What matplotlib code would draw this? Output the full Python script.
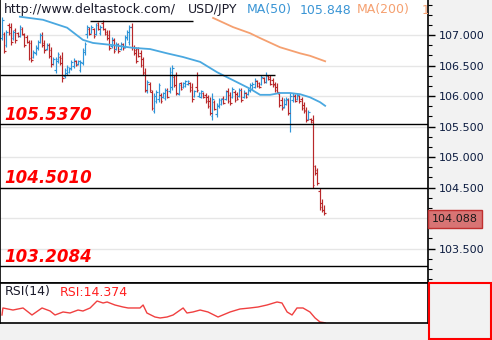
import matplotlib
matplotlib.use('Agg')
import numpy as np
import matplotlib.pyplot as plt
from matplotlib.ticker import FixedLocator, MultipleLocator, FormatStrFormatter
from matplotlib.patches import Rectangle
import matplotlib.transforms as mtransforms

# USD/JPY daily bars
opens = [106.95, 107.02, 106.84, 107.16, 107.13, 106.95, 107.08, 107.03, 106.99, 107.10,
         107.00, 106.97, 106.89, 106.87, 106.64, 106.70, 106.78, 106.89, 107.00, 106.87,
         106.77, 106.84, 106.75, 106.53, 106.42, 106.57, 106.64, 106.62, 106.33, 106.38,
         106.40, 106.45, 106.49, 106.57, 106.52, 106.42, 106.54, 106.72, 107.02, 107.10,
         107.04, 107.10, 107.01, 107.19, 107.03, 107.20, 107.10, 107.05, 107.00, 106.82,
         106.92, 106.77, 106.84, 106.77, 106.85, 106.81, 106.95, 106.88, 107.13, 106.80,
         106.75, 106.77, 106.70, 106.60, 106.40, 106.08, 106.20, 106.07, 105.76, 105.92,
         105.95, 106.02, 105.98, 105.96, 106.10, 106.08, 106.15, 106.31, 106.34, 106.04,
         106.21, 106.14, 106.17, 106.19, 106.21, 106.15, 106.00, 106.15, 106.00, 105.99,
         106.05, 106.02, 105.98, 105.92, 105.68, 105.90, 105.70, 105.83, 105.87, 105.97,
         105.95, 106.08, 106.02, 105.99, 106.07, 106.04, 106.00, 106.10, 105.98, 106.05,
         106.03, 106.09, 106.12, 106.15, 106.24, 106.21, 106.20, 106.29, 106.23, 106.33,
         106.31, 106.26, 106.20, 106.15, 106.04, 105.93, 105.82, 105.87, 105.93, 105.72,
         105.93, 106.00, 105.95, 106.00, 105.95, 105.85, 105.77, 105.62, 105.62, 105.60,
         104.85, 104.78, 104.45, 104.25, 104.14]
highs = [107.30, 107.05, 107.08, 107.20, 107.20, 107.08, 107.12, 107.05, 107.16, 107.13,
         107.03, 107.00, 106.92, 106.92, 106.75, 106.84, 106.92, 107.03, 107.05, 106.92,
         106.87, 106.87, 106.80, 106.64, 106.64, 106.72, 106.67, 106.72, 106.46, 106.51,
         106.48, 106.59, 106.62, 106.59, 106.59, 106.59, 106.79, 106.89, 107.16, 107.13,
         107.16, 107.12, 107.20, 107.21, 107.16, 107.25, 107.12, 107.08, 107.08, 106.97,
         106.95, 106.89, 106.87, 106.89, 106.87, 107.00, 107.08, 107.16, 107.20, 106.84,
         106.80, 106.80, 106.75, 106.64, 106.46, 106.26, 106.23, 106.10, 106.05, 106.10,
         106.21, 106.05, 106.07, 106.13, 106.13, 106.48, 106.51, 106.34, 106.39, 106.21,
         106.23, 106.23, 106.26, 106.26, 106.23, 106.21, 106.10, 106.39, 106.07, 106.10,
         106.07, 106.05, 106.02, 105.98, 106.05, 105.93, 105.89, 105.97, 105.97, 106.00,
         106.10, 106.13, 106.07, 106.15, 106.10, 106.07, 106.13, 106.13, 106.10, 106.07,
         106.13, 106.21, 106.23, 106.30, 106.26, 106.23, 106.34, 106.31, 106.39, 106.34,
         106.34, 106.30, 106.23, 106.21, 106.07, 105.98, 105.97, 105.98, 105.97, 106.05,
         106.05, 106.03, 106.05, 106.02, 105.98, 105.90, 105.82, 105.77, 105.64, 105.69,
         104.87, 104.82, 104.49, 104.31, 104.21]
lows = [106.92, 106.70, 106.80, 107.00, 106.84, 106.92, 106.87, 106.97, 106.97, 107.00,
        106.80, 106.87, 106.59, 106.56, 106.62, 106.67, 106.75, 106.87, 106.80, 106.70,
        106.75, 106.62, 106.48, 106.51, 106.38, 106.54, 106.51, 106.23, 106.30, 106.34,
        106.38, 106.43, 106.46, 106.49, 106.51, 106.39, 106.51, 106.67, 106.95, 107.00,
        107.03, 106.95, 107.00, 107.08, 107.00, 107.08, 107.00, 106.92, 106.75, 106.79,
        106.70, 106.75, 106.70, 106.75, 106.75, 106.79, 106.92, 106.84, 106.75, 106.67,
        106.54, 106.64, 106.48, 106.34, 106.07, 106.05, 106.07, 105.77, 105.72, 105.89,
        105.90, 105.89, 105.97, 105.93, 105.97, 106.05, 106.10, 106.15, 106.02, 106.02,
        106.10, 106.13, 106.15, 106.18, 106.07, 105.90, 105.98, 106.07, 105.98, 105.97,
        105.97, 105.89, 105.80, 105.69, 105.61, 105.77, 105.66, 105.80, 105.85, 105.87,
        105.93, 105.89, 105.85, 105.97, 105.90, 105.93, 105.98, 105.90, 105.97, 105.97,
        106.02, 106.07, 106.10, 106.13, 106.15, 106.13, 106.18, 106.21, 106.21, 106.26,
        106.18, 106.15, 106.07, 106.05, 105.82, 105.77, 105.80, 105.85, 105.69, 105.41,
        105.90, 105.90, 105.93, 105.89, 105.77, 105.72, 105.57, 105.61, 105.56, 104.49,
        104.71, 104.54, 104.13, 104.10, 104.05]
closes = [107.25, 106.73, 107.05, 107.03, 106.88, 107.05, 106.92, 106.98, 107.13, 107.02,
          106.84, 106.89, 106.62, 106.59, 106.72, 106.80, 106.89, 107.00, 106.84, 106.75,
          106.84, 106.66, 106.52, 106.61, 106.60, 106.69, 106.54, 106.30, 106.43, 106.48,
          106.46, 106.56, 106.59, 106.51, 106.57, 106.56, 106.75, 106.85, 107.13, 107.02,
          107.13, 106.98, 107.16, 107.10, 107.13, 107.10, 107.02, 106.95, 106.79, 106.93,
          106.74, 106.86, 106.74, 106.86, 106.78, 106.97, 107.05, 107.13, 106.80, 106.70,
          106.57, 106.66, 106.51, 106.38, 106.10, 106.23, 106.10, 105.80, 106.00, 106.07,
          106.18, 105.92, 106.05, 106.10, 105.99, 106.40, 106.46, 106.18, 106.05, 106.18,
          106.12, 106.21, 106.24, 106.25, 106.10, 105.95, 106.08, 106.10, 106.05, 106.08,
          105.99, 105.92, 105.84, 105.72, 105.95, 105.79, 105.85, 105.94, 105.95, 105.89,
          106.07, 105.92, 105.88, 106.12, 105.93, 105.95, 106.10, 105.93, 106.07, 105.99,
          106.10, 106.18, 106.20, 106.26, 106.17, 106.15, 106.31, 106.23, 106.35, 106.28,
          106.20, 106.18, 106.10, 106.07, 105.85, 105.80, 105.94, 105.95, 105.72, 106.00,
          106.02, 105.92, 106.02, 105.92, 105.80, 105.75, 105.60, 105.74, 105.58, 104.55,
          104.74, 104.58, 104.18, 104.14, 104.088]

# moving averages (bar index, value)
ma50_idx = [8, 18.3, 29.1, 36.2, 40.7, 48.3, 58.6, 66.2, 73.8, 80.9, 88.6, 96.2,
            103.3, 110.9, 115.4, 119.9, 124.3, 128.8, 133.3, 137.7, 142.2, 144.5]
ma50_val = [107.30, 107.25, 107.12, 106.92, 106.87, 106.84, 106.79, 106.77, 106.70,
            106.64, 106.56, 106.39, 106.26, 106.12, 106.02, 106.02, 106.05, 106.05,
            106.03, 105.98, 105.90, 105.84]
ma200_idx = [94.4, 103.3, 110.9, 115.4, 124.3, 133.3, 137.7, 144.5]
ma200_val = [107.28, 107.13, 107.03, 106.95, 106.80, 106.70, 106.66, 106.57]

# RSI(14)
rsi_idx = [0, 0.4, 4.9, 9.4, 13.4, 17.9, 21.5, 23.7, 27.3, 30.4, 34.0, 36.2, 39.4,
           42.5, 45.2, 47.0, 50.5, 54.1, 56.4, 59.5, 61.7, 63.1, 64.8, 68.4, 70.7,
           73.8, 76.5, 81.0, 82.7, 85.4, 88.6, 92.1, 96.6, 102.0, 106.4, 110.9, 114.5,
           118.5, 123.0, 125.2, 127.5, 129.7, 131.9, 134.6, 137.7, 140.0, 142.2, 144.5]
rsi_val = [31.2, 46.3, 41.9, 46.3, 31.2, 46.3, 39.8, 31.2, 37.7, 35.5, 41.9, 39.8, 46.3,
           61.3, 57.0, 59.2, 52.7, 48.4, 46.3, 46.3, 46.3, 52.7, 35.5, 26.9, 24.8,
           26.9, 31.2, 46.3, 35.5, 37.7, 41.9, 37.7, 26.9, 37.7, 44.1, 46.3, 48.4,
           52.7, 59.2, 57.0, 37.7, 31.2, 46.3, 46.3, 37.7, 24.8, 16.2, 14.374]

# horizontal levels
levels = [105.5370, 104.5010, 103.2084]
res_lines = [(106.344, -0.9, 122.1), (107.23, 39.4, 85.4)]
price_ticks = [103.5, 104.5, 105.0, 105.5, 106.0, 106.5, 107.0]
grid_levels = [103.5, 104.0, 104.5, 105.0, 105.5, 106.0, 106.5, 107.0]

W, H = 492, 340
fig = plt.figure(figsize=(W / 100, H / 100), dpi=100, facecolor='#f2f2f2')
ax = fig.add_axes([0, (H - 283) / H, 428 / W, 283 / H])
ax.set_facecolor('white')

for g in grid_levels:
    ax.axhline(g, color='#e6e6e6', lw=1, zorder=0)

n = len(closes)
x = np.arange(n)
o = np.array(opens); c = np.array(closes)
cols = np.where(c >= o, '#2f95d8', '#b8282a')
ax.vlines(x, lows, highs, colors=cols, lw=0.85)
ax.hlines(opens, x - 0.7, x, colors=cols, lw=0.85)
ax.hlines(closes, x, x + 0.7, colors=cols, lw=0.85)

ax.plot(ma50_idx, ma50_val, color='#4aa8e0', lw=1.3)
ax.plot(ma200_idx, ma200_val, color='#f5a070', lw=1.3)

for lv in levels:
    ax.axhline(lv, color='black', lw=1.0)
for lv, x0, x1 in res_lines:
    ax.hlines(lv, x0, x1, color='black', lw=1.0)

ax.set_xlim(-0.9, 190.5)
ax.set_ylim(102.936, 107.574)
ax.set_xticks([])
ax.yaxis.tick_right()
ax.yaxis.set_major_locator(FixedLocator(price_ticks))
ax.yaxis.set_minor_locator(MultipleLocator(0.5 / 3))
ax.yaxis.set_major_formatter(FormatStrFormatter('%.3f'))
ax.tick_params(axis='y', which='major', length=5, width=1, direction='out',
               labelsize=8, labelcolor='#0c1c40', pad=3)
ax.tick_params(axis='y', which='minor', length=3, width=0.8, direction='out')
ax.spines['top'].set_visible(False)
for s in ['left', 'right', 'bottom']:
    ax.spines[s].set_linewidth(1.2)

# header texts
def px(xp):
    return xp / 428
ty = 1 - 10 / 283
ax.text(px(4), ty, 'http://www.deltastock.com/', transform=ax.transAxes,
        fontsize=9, color='#1a1a2a', va='center')
ax.text(px(188), ty, 'USD/JPY', transform=ax.transAxes, fontsize=9,
        color='#1a1a2a', va='center')
ax.text(px(247), ty, 'MA(50)', transform=ax.transAxes, fontsize=9,
        color='#3a95d5', va='center')
ax.text(px(300), ty, '105.848', transform=ax.transAxes, fontsize=9,
        color='#3a95d5', va='center')
ax.text(px(357), ty, 'MA(200)', transform=ax.transAxes, fontsize=9,
        color='#f5a070', va='center')
ax.text(px(422), ty, '106.570', transform=ax.transAxes, fontsize=9,
        color='#f5a070', va='center', clip_on=True)

# level labels
for lv, ybase in zip(levels, [120, 183, 262]):
    ax.text(px(4), 1 - ybase / 283, '%.4f' % lv, transform=ax.transAxes,
            fontsize=12, fontweight='bold', fontstyle='italic', color='#ff0000',
            va='baseline')

# last price box
trans = mtransforms.blended_transform_factory(ax.transAxes, ax.transData)
ax.text(1 + 4 / 428, closes[-1] - 0.1, '%.3f' % closes[-1], transform=trans,
        fontsize=8, color='#1a1a1a', va='center', ha='left', clip_on=False,
        bbox=dict(boxstyle='square,pad=0.35', facecolor='#d87474',
                  edgecolor='#c03030', lw=1))

# RSI panel
ax2 = fig.add_axes([0, (H - 323) / H, 428 / W, 40 / H])
ax2.set_facecolor('white')
ax2.plot(rsi_idx, rsi_val, color='#f04040', lw=1.0)
ax2.set_xlim(-0.9, 190.5)
ax2.set_ylim(14, 100)
ax2.set_xticks([])
ax2.set_yticks([])
for s in ax2.spines.values():
    s.set_linewidth(1.2)
ax2.text(px(5), 1 - 9 / 40, 'RSI(14)', transform=ax2.transAxes, fontsize=9,
         color='#1a1a2a', va='center')
ax2.text(px(60), 1 - 9 / 40, 'RSI:14.374', transform=ax2.transAxes, fontsize=9,
         color='#ff2020', va='center')

fig.patches.append(Rectangle((428.5 / W, 1 / H), 62 / W, 56 / H,
                             transform=fig.transFigure, fill=False,
                             edgecolor='#ff0000', lw=1.5))

fig.savefig('out.png', dpi=100, facecolor=fig.get_facecolor())
